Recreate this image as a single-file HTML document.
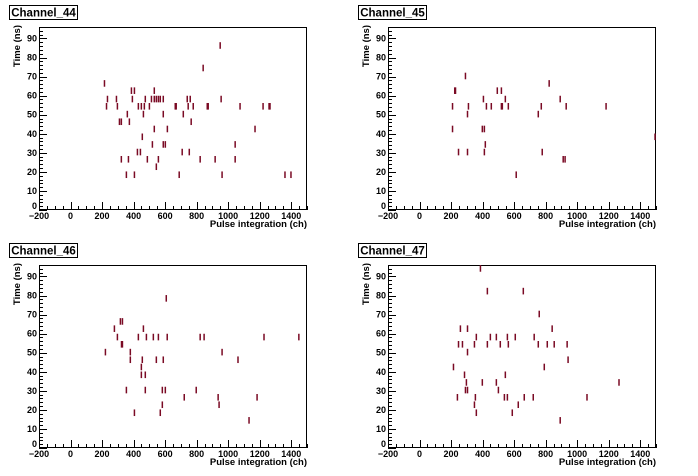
<!DOCTYPE html>
<html><head><meta charset="utf-8">
<style>
html,body{margin:0;padding:0;background:#fff;}
svg{display:block;font-family:"Liberation Sans",Arial,sans-serif;}
</style></head>
<body>
<svg id="c" width="698" height="476" viewBox="0 0 698 476" xmlns="http://www.w3.org/2000/svg"></svg>
<script>
const titles = ["Channel_44","Channel_45","Channel_46","Channel_47"];
const xTicks = [-200,0,200,400,600,800,1000,1200,1400];
const yTicks = [0,10,20,30,40,50,60,70,80,90];
const ch44x = [215,234,228,291,297,310,322,322,354,360,367,373,386,392,405,405,424,430,443,449,455,462,468,474,487,500,513,519,531,531,531,544,544,557,557,569,588,588,588,601,614,664,670,689,708,715,740,746,753,759,765,778,822,841,867,873,917,949,955,961,1044,1044,1075,1170,1221,1259,1265,1360,1398];
const ch44y = [66.4,58.2,54.4,58.2,54.4,46.3,46.3,26.6,18.5,50.3,26.6,46.3,62.6,58.2,62.6,18.5,30.4,54.4,30.4,54.4,38.4,50.3,54.4,58.2,26.6,54.4,58.2,34.4,62.6,58.2,42.5,58.2,22.7,58.2,26.6,58.2,58.2,50.3,34.4,34.4,42.5,54.4,54.4,18.5,30.4,50.3,58.2,54.4,30.4,58.2,46.3,54.4,26.6,74.5,54.4,54.4,26.6,86.3,58.2,18.5,34.4,26.6,54.4,42.5,54.4,54.4,54.4,18.5,18.5];
const ch45x = [209,209,223,228,247,291,304,304,310,398,405,411,411,417,424,455,493,519,519,525,544,563,613,753,772,778,822,892,911,923,930,1183,1495];
const ch45y = [54.4,42.5,62.6,62.6,30.4,70.3,50.3,30.4,54.4,42.5,58.2,42.5,30.4,34.4,54.4,54.4,62.6,62.6,54.4,54.4,58.2,54.4,18.5,50.3,54.4,30.4,66.4,58.2,26.6,26.6,54.4,54.4,38.4];
const ch46x = [221,278,297,316,329,323,329,354,379,379,405,430,449,449,455,462,474,474,481,525,544,557,569,582,582,588,601,607,613,721,797,822,847,936,942,961,1062,1132,1183,1227,1448];
const ch46y = [50.3,62.6,58.2,66.4,66.4,54.4,54.4,30.4,50.3,46.3,18.5,58.2,42.5,38.4,46.3,62.6,38.4,30.4,58.2,58.2,46.3,58.2,18.5,30.4,22.7,46.3,30.4,78.5,58.2,26.6,30.4,58.2,58.2,26.6,22.7,50.3,46.3,14.5,26.6,58.2,58.2];
const ch47x = [386,430,658,759,259,304,841,360,449,487,557,607,727,247,272,348,430,512,563,753,810,854,936,304,942,215,791,285,544,297,398,487,1265,291,304,500,240,354,538,557,664,721,1062,348,626,360,588,892];
const ch47y = [94.2,82.3,82.3,70.3,62.6,62.6,62.6,58.2,58.2,58.2,58.2,58.2,58.2,54.4,54.4,54.4,54.4,54.4,54.4,54.4,54.4,54.4,54.4,50.3,46.3,42.5,42.5,38.4,38.4,34.4,34.4,34.4,34.4,30.4,30.4,30.4,26.6,26.6,26.6,26.6,26.6,26.6,26.6,22.7,22.7,18.5,18.5,14.5];
const seriesX = [ch44x,ch45x,ch46x,ch47x];
const seriesY = [ch44y,ch45y,ch46y,ch47y];

const NS="http://www.w3.org/2000/svg";
const svg=document.getElementById('c');
function mk(tag,attrs,parent){const e=document.createElementNS(NS,tag);for(const k in attrs)e.setAttribute(k,attrs[k]);parent.appendChild(e);return e;}
const L=39,R=307,T=27,B=210,XMIN=-200,XMAX=1500,YMIN=0,YMAX=96;
const origins=[[0,0],[349,0],[0,238],[349,238]];
for(let p=0;p<4;p++){
  const [ox,oy]=origins[p];
  const g=mk('g',{transform:`translate(${ox},${oy})`},svg);
  
  
  const sx=v=>L+(v-XMIN)/(XMAX-XMIN)*(R-L);
  const sy=v=>B-(v-YMIN)/(YMAX-YMIN)*(B-T);
  // title box
  const tb=mk('rect',{x:9.5,y:5.5,width:68,height:14,fill:'#fff',stroke:'#000','stroke-width':1},g);
  
  
  const tt=mk('text',{x:43.5,y:16.5,'font-size':11.5,'font-weight':'bold','text-anchor':'middle'},g);
  tt.textContent=titles[p];
  
  
  // frame
  const fr=mk('rect',{x:L+0.5,y:T+0.5,width:R-L-1,height:B-T-1,fill:'none',stroke:'#000','stroke-width':1},g);
  
  
  // x ticks
  for(let v=XMIN;v<=XMAX;v+=50){
    const maj=(v%200===0);
    const x=Math.round(sx(v))+0.5;
    mk('line',{x1:x,x2:x,y1:B,y2:B-(maj?8:4),stroke:'#000','stroke-width':1},g);
  }
  for(let i=0;i<xTicks.length;i++){
    const t=mk('text',{x:sx(xTicks[i]),y:B+9,'font-size':9,'font-weight':'bold','text-anchor':'middle'},g);
    t.textContent=xTicks[i]===-200?'\u2212200':String(xTicks[i]);
    
    
  }
  // y ticks
  for(let v=YMIN;v<=YMAX;v+=2){
    const maj=(v%10===0);
    const y=Math.round(sy(v))+0.5;
    mk('line',{x1:L,x2:L+(maj?8:4),y1:y,y2:y,stroke:'#000','stroke-width':1},g);
  }
  for(let i=0;i<yTicks.length;i++){
    const v=yTicks[i];
    const t=mk('text',{x:37,y:sy(v)+(v===0?-1:3),'font-size':9,'font-weight':'bold','text-anchor':'end'},g);
    t.textContent=String(v);
    
    
  }
  const xt=mk('text',{x:R,y:B+17,'font-size':9.5,'font-weight':'bold','text-anchor':'end'},g);
  xt.textContent='Pulse integration (ch)';
  
  
  const yt=mk('text',{x:0,y:0,'font-size':9.5,'font-weight':'bold','text-anchor':'end',transform:`translate(20,${T-2}) rotate(-90)`},g);
  yt.textContent='Time (ns)';
  
  
  // marks
  const xs=seriesX[p],ys=seriesY[p];
  for(let i=0;i<xs.length;i++){
    const cx=Math.min(sx(xs[i]),R-1);
    const r=mk('rect',{x:cx-0.7,y:sy(ys[i])-3.3,width:1.5,height:6.6,fill:'#7a0a24'},g);
    
    
  }
}
</script>
</body></html>
